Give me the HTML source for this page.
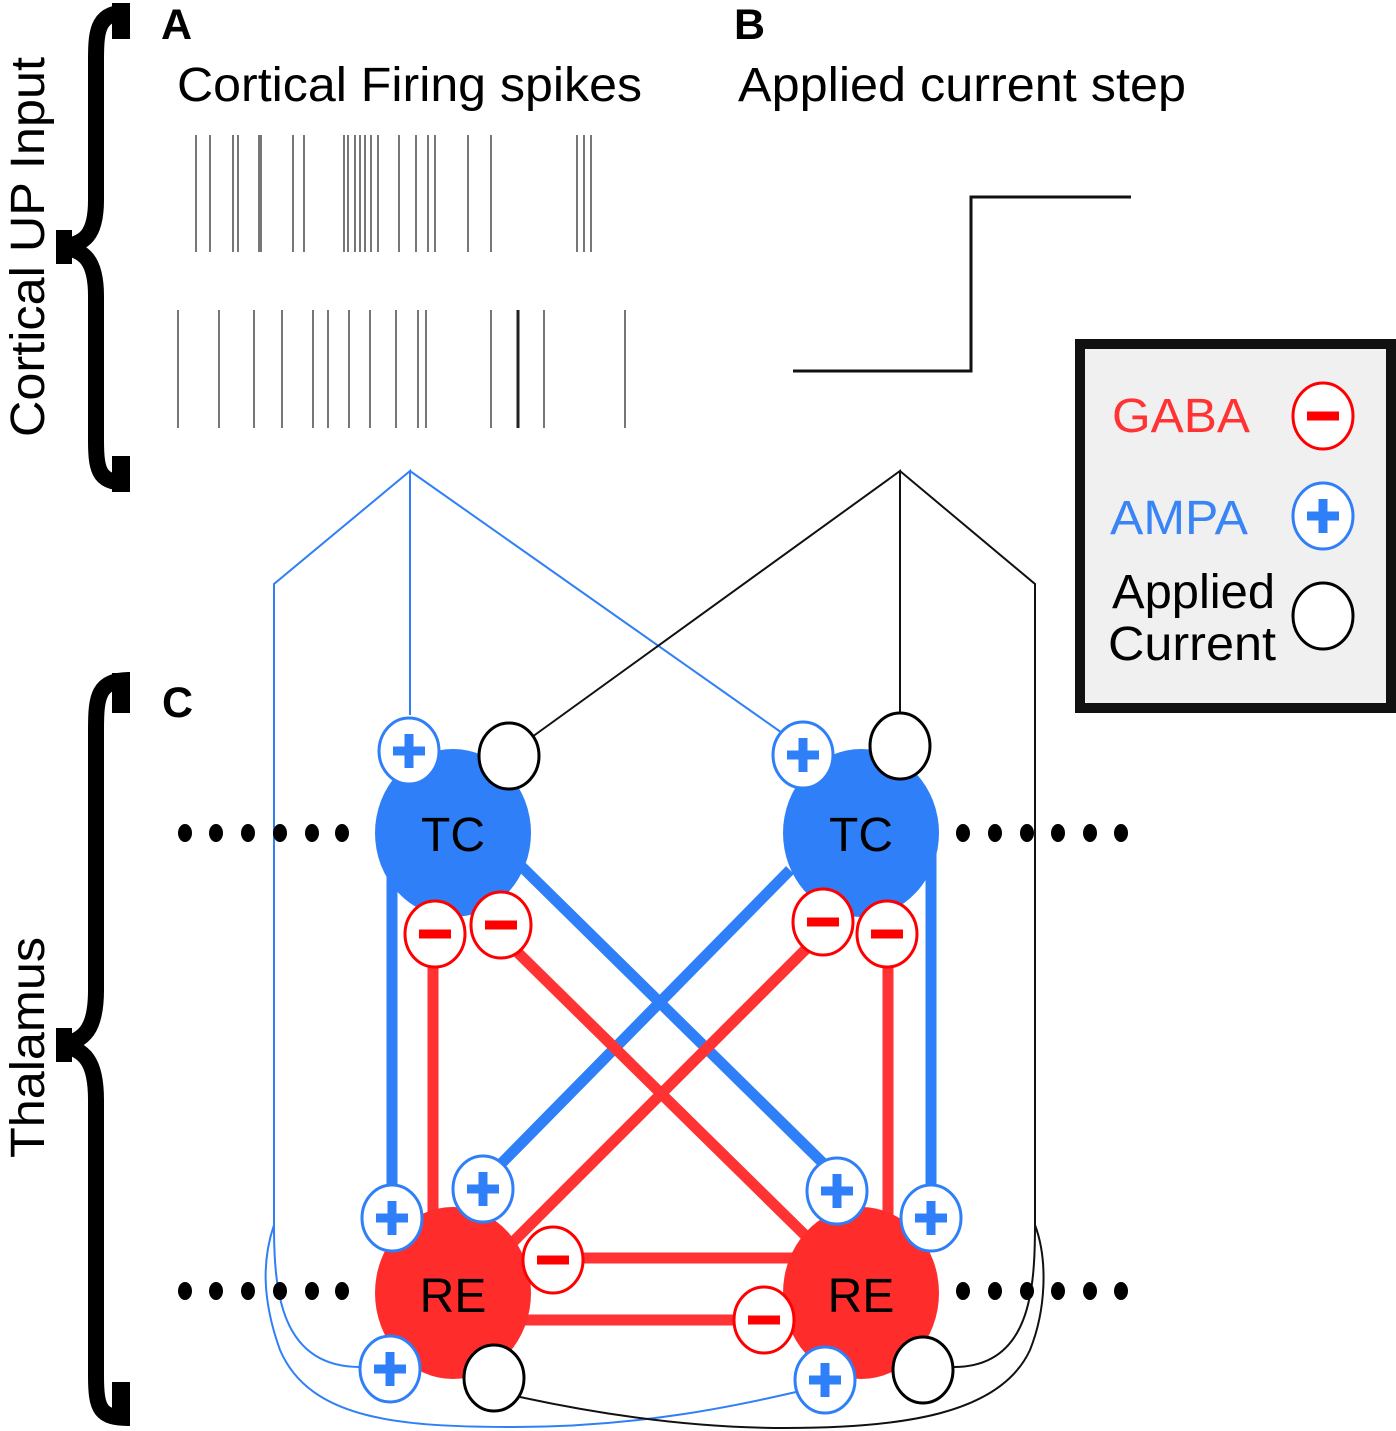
<!DOCTYPE html>
<html><head><meta charset="utf-8"><style>
html,body{margin:0;padding:0;background:#fff;}
svg{display:block;}
text{font-family:"Liberation Sans",sans-serif;}
</style></head><body>
<svg width="1396" height="1431" viewBox="0 0 1396 1431" xmlns="http://www.w3.org/2000/svg">
<defs>
<g id="plus"><ellipse cx="0" cy="0" rx="30" ry="33" fill="#fff" stroke="#2f7ff8" stroke-width="3"/><rect x="-16" y="-4.5" width="32" height="9" fill="#2f7ff8"/><rect x="-4.5" y="-17" width="9" height="34" fill="#2f7ff8"/></g>
<g id="minus"><ellipse cx="0" cy="0" rx="30" ry="33" fill="#fff" stroke="#f00" stroke-width="3"/><rect x="-16" y="-4.5" width="32" height="9" fill="#f00"/></g>
<g id="wc"><ellipse cx="0" cy="0" rx="30" ry="33" fill="#fff" stroke="#000" stroke-width="3"/></g>
</defs>

<!-- braces -->
<g fill="none" stroke="#000" stroke-width="16">
<path d="M130,12 C98,12 96,28 96,60 L96,200 C96,236 84,244 62,247 C84,250 96,260 96,296 L96,440 C96,474 100,483 130,483"/>
<path d="M130,680 C98,680 96,696 96,730 L96,990 C96,1030 84,1040 62,1045 C84,1050 96,1060 96,1100 L96,1375 C96,1410 100,1418 130,1418"/>
</g>
<rect x="56" y="230" width="16" height="34" fill="#000"/>
<rect x="56" y="1028" width="16" height="34" fill="#000"/>
<rect x="112" y="3" width="18" height="36" fill="#000"/>
<rect x="112" y="456" width="18" height="36" fill="#000"/>
<rect x="112" y="673" width="18" height="40" fill="#000"/>
<rect x="112" y="1382" width="18" height="40" fill="#000"/>

<text transform="translate(44,437) rotate(-90)" font-size="48" textLength="380" lengthAdjust="spacingAndGlyphs">Cortical UP Input</text>
<text transform="translate(44,1158) rotate(-90)" font-size="48" textLength="221" lengthAdjust="spacingAndGlyphs">Thalamus</text>

<text x="161" y="39" font-size="43" font-weight="bold">A</text>
<text x="734" y="39" font-size="43" font-weight="bold">B</text>
<text x="162" y="717" font-size="43" font-weight="bold">C</text>
<text x="177" y="101" font-size="48" textLength="465" lengthAdjust="spacingAndGlyphs">Cortical Firing spikes</text>
<text x="738" y="101" font-size="48" textLength="448" lengthAdjust="spacingAndGlyphs">Applied current step</text>

<!-- spikes -->
<g stroke="#555" stroke-width="1.6">
<path d="M196,135V252M210,135V252M233,135V252M238,135V252M259,135V252M261,135V252M293,135V252M304,135V252M344,135V252M348,135V252M355,135V252M360,135V252M365,135V252M371,135V252M378,135V252M399,135V252M416,135V252M428,135V252M435,135V252M468,135V252M491,135V252M577,135V252M584,135V252M591,135V252"/>
<path d="M178,310V428M219,310V428M254,310V428M282,310V428M313,310V428M328,310V428M349,310V428M370,310V428M396,310V428M418,310V428M426,310V428M491,310V428M544,310V428M625,310V428"/>
<path d="M518,310V428" stroke-width="3" stroke="#222"/>
</g>

<!-- step -->
<polyline points="793,371 971,371 971,197 1131,197" fill="none" stroke="#111" stroke-width="3"/>

<!-- legend -->
<rect x="1080" y="344" width="311" height="364" fill="#f0f0f0" stroke="#111" stroke-width="10"/>
<text x="1112" y="432" font-size="48" fill="#f33" textLength="138" lengthAdjust="spacingAndGlyphs">GABA</text>
<text x="1110" y="534" font-size="48" fill="#3a85f5" textLength="138" lengthAdjust="spacingAndGlyphs">AMPA</text>
<text x="1112" y="608" font-size="48" textLength="163" lengthAdjust="spacingAndGlyphs">Applied</text>
<text x="1108" y="660" font-size="48" textLength="168" lengthAdjust="spacingAndGlyphs">Current</text>
<use href="#minus" transform="translate(1323,416)"/>
<use href="#plus" transform="translate(1323,516)"/>
<use href="#wc" transform="translate(1323,616)"/>

<!-- thin inputs -->
<g fill="none" stroke-width="2">
<polyline points="274,1230 274,584 410,471 410,715" stroke="#2f7ff8"/>
<line x1="410" y1="471" x2="785" y2="735" stroke="#2f7ff8"/>
<polyline points="532,737 900,471 900,712" stroke="#111"/>
<polyline points="900,471 1035,584 1035,1230" stroke="#111"/>
<path d="M274,1225 C274,1290 280,1367 360,1367" stroke="#2f7ff8"/>
<path d="M274,1225 C262,1260 262,1300 280,1350 C310,1420 400,1427 515,1427 C640,1427 740,1405 796,1392" stroke="#2f7ff8"/>
<path d="M1035,1225 C1035,1290 1030,1367 954,1367" stroke="#111"/>
<path d="M1035,1225 C1048,1260 1046,1310 1030,1350 C1000,1415 900,1428 785,1428 C680,1428 580,1410 520,1397" stroke="#111"/>
</g>

<!-- thick connections -->
<g stroke-width="11" fill="none">
<line x1="392" y1="840" x2="392" y2="1195" stroke="#2f7ff8"/>
<line x1="931" y1="840" x2="931" y2="1195" stroke="#2f7ff8"/>
<line x1="520" y1="865" x2="830" y2="1170" stroke="#2f7ff8"/>
<line x1="790" y1="870" x2="490" y2="1175" stroke="#2f7ff8"/>
<line x1="433" y1="950" x2="433" y2="1225" stroke="#f33"/>
<line x1="888" y1="950" x2="888" y2="1225" stroke="#f33"/>
<line x1="505" y1="940" x2="815" y2="1245" stroke="#f33"/>
<line x1="815" y1="940" x2="505" y2="1250" stroke="#f33"/>
<line x1="530" y1="1258" x2="800" y2="1258" stroke="#f33"/>
<line x1="520" y1="1320" x2="760" y2="1320" stroke="#f33"/>
</g>

<!-- cells -->
<ellipse cx="453" cy="833" rx="78" ry="84" fill="#2f7ff8"/>
<ellipse cx="861" cy="833" rx="78" ry="84" fill="#2f7ff8"/>
<ellipse cx="453" cy="1293" rx="78" ry="86" fill="#ff2c2c"/>
<ellipse cx="861" cy="1293" rx="78" ry="86" fill="#ff2c2c"/>
<text x="453" y="851" font-size="48" text-anchor="middle">TC</text>
<text x="861" y="851" font-size="48" text-anchor="middle">TC</text>
<text x="453" y="1312" font-size="48" text-anchor="middle">RE</text>
<text x="861" y="1312" font-size="48" text-anchor="middle">RE</text>

<!-- synapses -->
<use href="#plus" transform="translate(409,751)"/>
<use href="#plus" transform="translate(803,755)"/>
<use href="#plus" transform="translate(392,1218)"/>
<use href="#plus" transform="translate(483,1189)"/>
<use href="#plus" transform="translate(837,1191)"/>
<use href="#plus" transform="translate(931,1218)"/>
<use href="#plus" transform="translate(390,1369)"/>
<use href="#plus" transform="translate(825,1380)"/>
<use href="#minus" transform="translate(435,934)"/>
<use href="#minus" transform="translate(501,925)"/>
<use href="#minus" transform="translate(823,922)"/>
<use href="#minus" transform="translate(887,934)"/>
<use href="#minus" transform="translate(553,1260)"/>
<use href="#minus" transform="translate(764,1320)"/>
<use href="#wc" transform="translate(509,756)"/>
<use href="#wc" transform="translate(900,746)"/>
<use href="#wc" transform="translate(494,1378)"/>
<use href="#wc" transform="translate(923,1370)"/>

<!-- dots -->
<g fill="#000">
<ellipse cx="185" cy="833" rx="7" ry="9"/><ellipse cx="216" cy="833" rx="7" ry="9"/><ellipse cx="248" cy="833" rx="7" ry="9"/><ellipse cx="280" cy="833" rx="7" ry="9"/><ellipse cx="312" cy="833" rx="7" ry="9"/><ellipse cx="342" cy="833" rx="7" ry="9"/>
<ellipse cx="963" cy="833" rx="7" ry="9"/><ellipse cx="995" cy="833" rx="7" ry="9"/><ellipse cx="1027" cy="833" rx="7" ry="9"/><ellipse cx="1058" cy="833" rx="7" ry="9"/><ellipse cx="1090" cy="833" rx="7" ry="9"/><ellipse cx="1121" cy="833" rx="7" ry="9"/>
<ellipse cx="185" cy="1291" rx="7" ry="9"/><ellipse cx="216" cy="1291" rx="7" ry="9"/><ellipse cx="248" cy="1291" rx="7" ry="9"/><ellipse cx="280" cy="1291" rx="7" ry="9"/><ellipse cx="312" cy="1291" rx="7" ry="9"/><ellipse cx="342" cy="1291" rx="7" ry="9"/>
<ellipse cx="963" cy="1291" rx="7" ry="9"/><ellipse cx="995" cy="1291" rx="7" ry="9"/><ellipse cx="1027" cy="1291" rx="7" ry="9"/><ellipse cx="1058" cy="1291" rx="7" ry="9"/><ellipse cx="1090" cy="1291" rx="7" ry="9"/><ellipse cx="1121" cy="1291" rx="7" ry="9"/>
</g>
</svg>
</body></html>
